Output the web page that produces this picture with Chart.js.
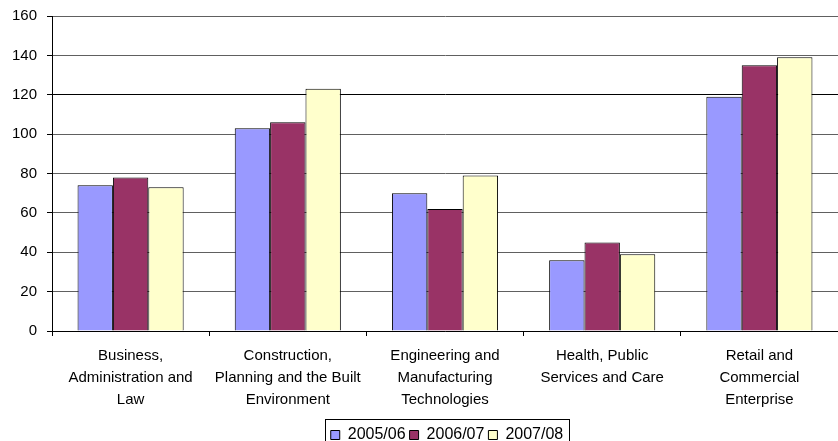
<!DOCTYPE html>
<html>
<head>
<meta charset="utf-8">
<script src="https://cdn.jsdelivr.net/npm/chart.js@4"></script>
<style>
html,body{margin:0;padding:0;background:#fff;}
#wrap{width:838px;height:441px;position:relative;}
</style>
</head>
<body>
<div id="wrap"><canvas id="c" width="838" height="441"></canvas></div>
<script>
const categories = [
  ["Business,", "Administration and", "Law"],
  ["Construction,", "Planning and the Built", "Environment"],
  ["Engineering and", "Manufacturing", "Technologies"],
  ["Health, Public", "Services and Care"],
  ["Retail and", "Commercial", "Enterprise"]
];
const seriesNames = ["2005/06", "2006/07", "2007/08"];
const values0506 = [74, 103, 70, 36, 119];
const values0607 = [78, 106, 62, 45, 135];
const values0708 = [73, 123, 79, 39, 139];
const yMin = 0, yMax = 160, yStep = 20;

const colors = ["#9999FF", "#993366", "#FFFFCC"];
const FONT = 'Liberation Sans, Arial, sans-serif';

const legendShift = {
  id: 'legendShift',
  afterLayout(chart) {
    const lg = chart.legend;
    if (!lg) return;
    lg.left += 28; lg.right += 28;
  }
};

const legendBorder = {
  id: 'legendBorder',
  afterDraw(chart) {
    const lg = chart.legend;
    if (!lg || !lg.legendHitBoxes || !lg.legendHitBoxes.length) return;
    const boxes = lg.legendHitBoxes;
    let x1 = Math.min(...boxes.map(b => b.left));
    let x2 = Math.max(...boxes.map(b => b.left + b.width));
    let y1 = Math.min(...boxes.map(b => b.top));
    const ctx = chart.ctx;
    ctx.save();
    ctx.strokeStyle = '#000';
    ctx.lineWidth = 1;
    ctx.strokeRect(Math.round(x1 - 6) + 0.5, Math.round(y1 - 8) + 0.5, Math.round(x2 - x1 + 11), 40);
    ctx.restore();
  }
};

new Chart(document.getElementById('c'), {
  type: 'bar',
  data: {
    labels: categories,
    datasets: [
      { label: seriesNames[0], data: values0506, backgroundColor: colors[0], borderColor: '#000', borderWidth: 1 },
      { label: seriesNames[1], data: values0607, backgroundColor: colors[1], borderColor: '#000', borderWidth: 1 },
      { label: seriesNames[2], data: values0708, backgroundColor: colors[2], borderColor: '#000', borderWidth: 1 }
    ]
  },
  options: {
    responsive: false,
    animation: false,
    devicePixelRatio: 1,
    layout: { padding: { top: 16, right: 0, left: 0, bottom: -12 } },
    datasets: { bar: { categoryPercentage: 0.675, barPercentage: 1.0 } },
    plugins: {
      legend: {
        position: 'bottom',
        labels: {
          color: '#000',
          font: { family: FONT, size: 16 },
          boxWidth: 9, boxHeight: 9, padding: 4,
          generateLabels(chart) {
            return chart.data.datasets.map((d, i) => ({
              text: d.label, fillStyle: d.backgroundColor, strokeStyle: '#000', lineWidth: 1,
              datasetIndex: i, hidden: false, fontColor: '#000'
            }));
          }
        }
      },
      tooltip: { enabled: false }
    },
    scales: {
      x: {
        offset: true,
        afterFit(s) { s.height = 92; s.paddingLeft = 0; s.paddingRight = 0; },
        grid: { offset: true, drawOnChartArea: false, drawTicks: true, tickLength: 5, color: '#000' },
        border: { color: '#000', width: 1 },
        ticks: {
          color: '#000', maxRotation: 0, autoSkip: false, padding: 9,
          font: { family: FONT, size: 15, lineHeight: 1.45 }
        }
      },
      y: {
        min: yMin, max: yMax,
        afterFit(s) { s.width = 52; s.paddingTop = 0; s.paddingBottom = 0; },
        grid: {
          color: ctx => (ctx.tick && ctx.tick.value === 120) ? '#000' : '#606060',
          tickColor: '#000', tickLength: 5, drawTicks: true
        },
        border: { color: '#000', width: 1 },
        ticks: {
          stepSize: yStep, color: '#000', padding: 10,
          font: { family: FONT, size: 15 }
        }
      }
    }
  },
  plugins: [legendShift, legendBorder]
});
</script>
</body>
</html>
